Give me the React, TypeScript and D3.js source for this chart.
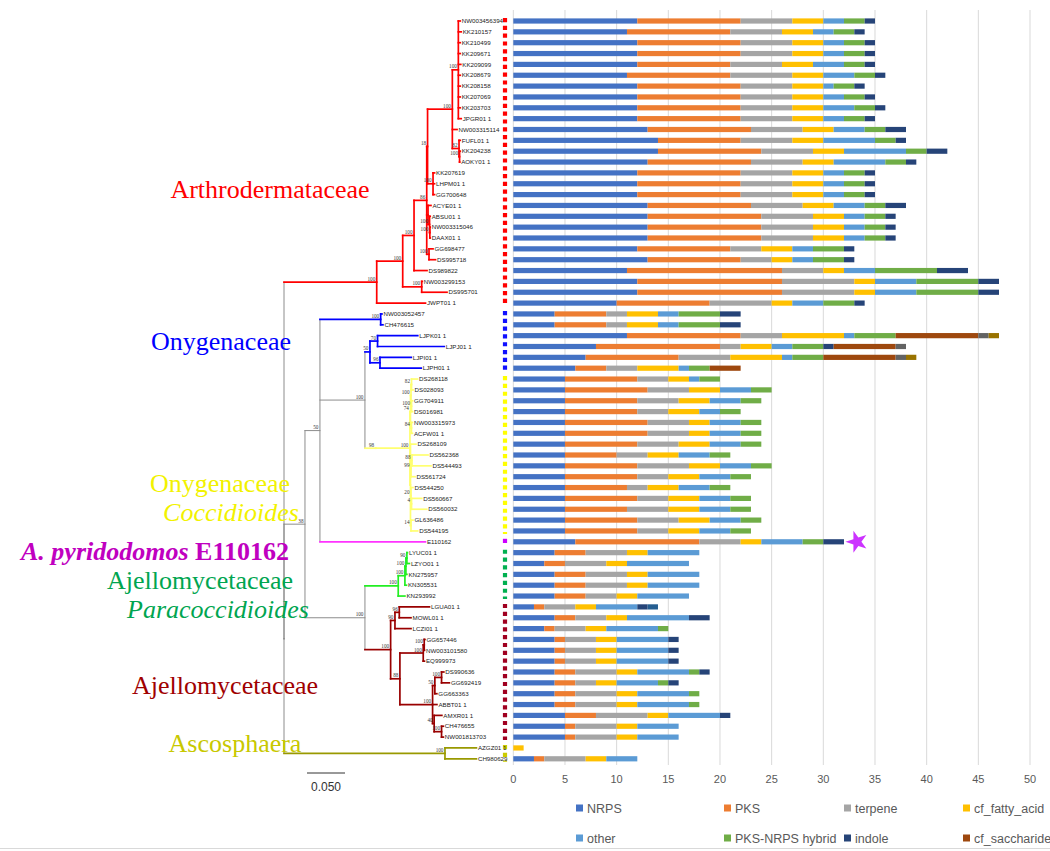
import React from "react";
import * as d3 from "d3";

// ---------------- DATA ----------------
const taxa = [
  "NW003456394","KK210157","KK210499","KK209671","KK209099","KK208679","KK208158","KK207069","KK203703","JPGR01 1",
  "NW003315114","FUFL01 1","KK204238","AOKY01 1","KK207619","LHPM01 1","GG700648","ACYE01 1","ABSU01 1","NW003315046",
  "DAAX01 1","GG698477","DS995718","DS989822","NW003299153","DS995701","JWPT01 1","NW003052457","CH476615","LJPK01 1",
  "LJPJ01 1","LJPI01 1","LJPH01 1","DS268118","DS028093","GG704911","DS016981","NW003315973","ACFW01 1","DS268109",
  "DS562368","DS544493","DS561724","DS544250","DS560667","DS560032","GL636486","DS544195","E110162","LYUC01 1",
  "LZYO01 1","KN275957","KN305531","KN293992","LGUA01 1","MOWL01 1","LCZI01 1","GG657446","NW003101580","EQ999973",
  "DS990636","GG692419","GG663363","ABBT01 1","AMXR01 1","CH476655","NW001813703","AZGZ01 1","CH980629",
];

const groupNames = ["Arthrodermataceae","Onygenaceae","Coccidioides","A. pyridodomos","Paracoccidioides","Ajellomycetaceae","Ascosphaera"];
const groupCounts = [27, 6, 15, 1, 5, 13, 2];

const NRPS =       [12,11,12,12,12,11,12,12,12,12, 13,14,14,13,12,12,12,13,13,13, 13,12,13,11,12,12,10,4,4,11, 8,7,6,5,5,5,5,5,5,5, 5,5,5,5,5,5,5,5,6,4, 3,4,4,4,2,4,3,4,4,4, 4,4,4,4,5,5,5,0,2];
const PKS =        [10,10,10,10,9,10,10,10,10,10, 10,8,10,10,10,10,10,10,11,11, 11,9,9,15,14,14,9,5,5,11, 12,9,3,7,8,7,7,8,8,7, 5,7,7,6,7,6,7,7,12,3, 2,3,3,3,1,2,1,1,1,1, 2,2,2,2,3,1,1,0,1];
const terpene =    [5,5,5,5,5,6,5,5,5,5, 5,5,5,5,5,5,5,5,5,5, 5,3,3,4,7,7,6,2,2,4, 2,5,3,3,4,4,3,4,4,4, 3,5,3,2,3,4,4,3,4,4, 4,4,4,3,3,3,3,3,3,3, 4,2,4,4,5,4,4,0,4];
const cfFattyAcid =[3,3,3,3,3,3,3,3,3,3, 3,3,3,3,3,3,3,3,3,3, 3,3,2,2,2,2,2,3,3,6, 3,5,4,2,3,3,3,2,2,3, 3,3,3,3,3,3,3,3,2,2, 2,2,2,2,2,2,2,2,2,2, 2,2,2,2,2,2,2,1,2];
const other =      [2,2,2,2,3,3,1,2,3,2, 3,5,6,5,2,2,2,3,2,2, 2,2,2,3,4,4,3,2,2,1, 2,1,1,1,3,3,2,3,3,3, 3,3,3,3,3,3,3,3,4,5, 6,5,5,5,4,6,5,5,5,5, 5,4,5,5,5,4,4,0,3];
const pksNrps =    [2,2,2,2,2,2,2,2,2,2, 2,2,2,2,2,2,2,2,2,2, 2,3,3,6,6,6,3,4,4,4, 3,3,2,2,2,2,2,2,2,2, 2,2,2,2,2,2,2,2,2,0, 0,0,0,0,0,0,1,0,0,0, 1,1,1,1,0,0,0,0,0];
const indole =     [1,1,1,1,1,1,1,1,1,1, 2,1,2,1,1,1,1,2,1,1, 1,1,1,3,2,2,1,2,2,0, 1,0,0,0,0,0,0,0,0,0, 0,0,0,0,0,0,0,0,2,0, 0,0,0,0,1,2,0,1,1,1, 1,1,0,0,1,0,0,0,0];
const cfSaccharide=[0,0,0,0,0,0,0,0,0,0, 0,0,0,0,0,0,0,0,0,0, 0,0,0,0,0,0,0,0,0,8, 6,7,3,0,0,0,0,0,0,0, 0,0,0,0,0,0,0,0,0,0, 0,0,0,0,0,0,0,0,0,0, 0,0,0,0,0,0,0,0,0];
const series9 =    [0,0,0,0,0,0,0,0,0,0, 0,0,0,0,0,0,0,0,0,0, 0,0,0,0,0,0,0,0,0,1, 1,1,0,0,0,0,0,0,0,0, 0,0,0,0,0,0,0,0,0,0, 0,0,0,0,0,0,0,0,0,0, 0,0,0,0,0,0,0,0,0];
const series10 =   [0,0,0,0,0,0,0,0,0,0, 0,0,0,0,0,0,0,0,0,0, 0,0,0,0,0,0,0,0,0,1, 0,1,0,0,0,0,0,0,0,0, 0,0,0,0,0,0,0,0,0,0, 0,0,0,0,0,0,0,0,0,0, 0,0,0,0,0,0,0,0,0];
const series11 =   [0,0,0,0,0,0,0,0,0,0, 0,0,0,0,0,0,0,0,0,0, 0,0,0,0,0,0,0,0,0,0, 0,0,0,0,0,0,0,0,0,0, 0,0,0,0,0,0,0,0,0,0, 0,0,0,0,1,0,0,0,0,0, 0,0,0,0,0,0,0,0,0];

const seriesNames = ["NRPS","PKS","terpene","cf_fatty_acid","other","PKS-NRPS hybrid","indole","cf_saccharide","series9","series10","series11"];
const seriesValues = [NRPS,PKS,terpene,cfFattyAcid,other,pksNrps,indole,cfSaccharide,series9,series10,series11];
const legendCount = 8;
const axisTicks = [0,5,10,15,20,25,30,35,40,45,50];

// Tree (Newick, branch lengths in substitutions/site, bootstrap as node labels)
const F_CL = "(NW003456394:0.0025,KK210157:0.0038,KK210499:0.0025,KK209671:0.0025,KK209099:0.0032,KK208679:0.0025,KK208158:0.0025,KK207069:0.0025,KK203703:0.0025,JPGR01_1:0.0038)100:0.0079";
const FG_CL = "(FUFL01_1:0.0016,(KK204238:0.0009,AOKY01_1:0.0001)100:0.0007)82:0.0088";
const K1_CL = "(KK207619:0.002,LHPM01_1:0.002,GG700648:0.002)100:0.0072";
const E3_CL = "(ACYE01_1:0.0039,(ABSU01_1:0.0009,(NW003315046:0.0005,DAAX01_1:0.0005)100:0.0004)100:0.002):0.0017";
const E2_CL = "(GG698477:0.0053,DS995718:0.0086)100:0.003";
const C_CL = "(NW003299153:0.0008,DS995701:0.0333)100:0.025";
const ARTHRO = `((((((${F_CL},NW003315114:0.0062,${FG_CL})100:0.0326,${K1_CL})18:0.0011,${E3_CL},${E2_CL})86:0.0167,DS989822:0.0171)100:0.0149,${C_CL})100:0.0342,JWPT01_1:0.0642)100:0.122`;
const ONY_BP = "(NW003052457:0.0017,CH476615:0.003)100:0.0799";
const ONY_LJP = "((LJPK01_1:0.0529,LJPJ01_1:0.0878)70:0.01,(LJPI01_1:0.0412,LJPH01_1:0.0543)96:0.0132)50:0.0066";
const COCCI_U = "((((DS268118:0.0079,DS028093:0.002)82:0.0007,(GG704911:0.0013,DS016981:0.0013)100:0.0007)100:0.0007,(NW003315973:0.0013,ACFW01_1:0.0013)84:0.0013)74:0.0007";
const COCCI_L = "(DS268109:0.0072,((DS562368:0.0211,DS544493:0.025)88:0.0013,DS561724:0.0053)99:0.0007,(DS544250:0.0026,(DS560667:0.0134,DS560032:0.02)4:0.0007)20:0.0007,(GL636486:0.0026,DS544195:0.0088)14:0.0007):0.0007";
const ONYGENALES = `(((${ONY_BP},(${ONY_LJP},(${COCCI_U},${COCCI_L})100:0.0451)98:0.0141)100:0.0592,E110162:0.1388)50:0.0197`;
const PARA = "((((LYUC01_1:0.0007,LZYO01_1:0.0033)90:0.0013,KN275957:0.0013)100:0.0013,KN305531:0.002)100:0.0088,KN293992:0.0088)100:0.0438";
const AJ_M1 = "((LGUA01_1:0.0397,MOWL01_1:0.0154)96:0.0057,LCZI01_1:0.0211)90:0.0057";
const AJ_M3 = "((GG657446:0.0009,NW003101580:0.0003)100:0.0013,EQ999973:0.0016)100:0.0307";
const AJ_M4 = "(((DS990636:0.003,GG692419:0.0103)100:0.0088,GG663363:0.0026)50:0.003,ABBT01_1:0.0057,(AMXR01_1:0.0101,(CH476655:0.0024,NW001813703:0.0024)100:0.0097)40:0.0021)100:0.043";
const AJELLO = `(${PARA},(${AJ_M1},(${AJ_M3},${AJ_M4})88:0.0122)100:0.0338)100:0.0789`;
const ASCO = "(AZGZ01_1:0.0414,CH980629:0.0414)100:0.2118";
const TREE = `(${ARTHRO},(${ONYGENALES},${AJELLO})38:0.0276,${ASCO});`;

// ---------------- STYLE ----------------
const seriesColors = ["#4472C4","#ED7D31","#A5A5A5","#FFC000","#5B9BD5","#70AD47","#264478","#9E480E","#636363","#997300","#255E91"];
const treeColors = ["#FF0000","#0000FF","#FFFF70","#FF33FF","#22EE22","#990000","#999900"];
const markerColors = ["#FF0000","#1010FF","#FFFF00","#CC00FF","#00B050","#A00020","#CCCC00"];
const GRAY = "#8c8c8c";

type TNode = { name: string; length: number; children: TNode[] };

function parseNewick(src: string): TNode {
  const s = src.replace(/\s+/g, "");
  let i = 0;
  function node(): TNode {
    const n: TNode = { name: "", length: 0, children: [] };
    if (s[i] === "(") {
      i++;
      n.children.push(node());
      while (s[i] === ",") { i++; n.children.push(node()); }
      i++;
    }
    let name = "";
    while (i < s.length && !",():;".includes(s[i])) name += s[i++];
    n.name = name;
    if (s[i] === ":") {
      i++;
      let num = "";
      while (i < s.length && !",();".includes(s[i])) num += s[i++];
      n.length = parseFloat(num);
    }
    return n;
  }
  return node();
}

export default function App() {
  const y = d3.scalePoint<string>().domain(taxa).range([21, 758.8]);
  const x = d3.scaleLinear().domain([0, 50]).range([513.3, 1030]);
  const tx = d3.scaleLinear().domain([0, 0.05]).range([284, 322]);

  const groupOf: Record<string, number> = {};
  let k = 0;
  groupCounts.forEach((c, g) => { for (let j = 0; j < c; j++) groupOf[taxa[k++]] = g; });

  const root = d3.hierarchy<TNode>(parseNewick(TREE), (d) => (d.children.length ? d.children : null));
  const dist = new Map<any, number>();
  const ny = new Map<any, number>();
  const ng = new Map<any, number>();
  root.eachBefore((n) => { dist.set(n, n.parent ? (dist.get(n.parent) as number) + n.data.length : 0); });
  root.eachAfter((n) => {
    if (!n.children) {
      const nm = n.data.name.replace(/_/g, " ");
      ny.set(n, y(nm) as number);
      ng.set(n, groupOf[nm]);
    } else {
      const c = n.children;
      ny.set(n, ((ny.get(c[0]) as number) + (ny.get(c[c.length - 1]) as number)) / 2);
      const g0 = ng.get(c[0]) as number;
      ng.set(n, c.every((ch) => ng.get(ch) === g0) ? g0 : -1);
    }
  });

  const nodes = root.descendants();
  const segs: { x1: number; y1: number; x2: number; y2: number; g: number }[] = [];
  nodes.forEach((n) => {
    const g = ng.get(n) as number;
    const nx = tx(dist.get(n) as number);
    const yy = ny.get(n) as number;
    if (n.parent) segs.push({ x1: tx(dist.get(n.parent) as number), y1: yy, x2: nx, y2: yy, g });
    if (n.children) {
      const c = n.children;
      segs.push({ x1: nx, y1: ny.get(c[0]) as number, x2: nx, y2: ny.get(c[c.length - 1]) as number, g });
    }
  });
  segs.sort((a, b) => (a.g < 0 ? 0 : 1) - (b.g < 0 ? 0 : 1));

  // stacked bars
  const bars: { x: number; w: number; y: number; c: string; key: string }[] = [];
  taxa.forEach((t, i) => {
    let cum = 0;
    seriesValues.forEach((vals, s) => {
      const v = vals[i];
      if (v > 0) {
        bars.push({ x: x(cum), w: x(cum + v) - x(cum), y: y(t) as number, c: seriesColors[s], key: t + s });
        cum += v;
      }
    });
  });
  const starTaxon = "E110162";
  const starIdx = taxa.indexOf(starTaxon);
  const starTotal = seriesValues.reduce((a, vals) => a + vals[starIdx], 0);
  const starPath = d3.symbol().type(d3.symbolStar).size(150)() as string;

  // marker column
  let start = 0;
  const markerRuns = groupCounts.map((c, g) => {
    const r = { y1: (y(taxa[start]) as number) - 3, y2: (y(taxa[start + c - 1]) as number) + 3, color: markerColors[g] };
    start += c;
    return r;
  });

  const legendCols = [576, 724, 844, 963];
  const legendRows = [808, 838];
  const leafFont = "'Liberation Sans', Arial, sans-serif";
  const serif = "'Liberation Serif', 'Times New Roman', serif";

  return (
    <svg width={1050} height={851} style={{ position: "absolute", left: 0, top: 0, background: "#fff" }}>
      {/* gridlines */}
      {axisTicks.map((t) => (
        <line key={"g" + t} x1={x(t)} x2={x(t)} y1={10} y2={765} stroke="#D9D9D9" strokeWidth={1} />
      ))}
      {axisTicks.map((t) => (
        <text key={"t" + t} x={x(t)} y={783} textAnchor="middle" fontSize={11} fill="#595959" fontFamily={leafFont}>{t}</text>
      ))}
      {/* bars */}
      {bars.map((b) => (
        <rect key={b.key} x={b.x} y={b.y - 2.6} width={b.w} height={5.2} fill={b.c} />
      ))}
      <path d={starPath} transform={`translate(${x(starTotal) + 13},${y(starTaxon)}) rotate(-18)`} fill="#CC33FF" />
      {/* markers */}
      {markerRuns.map((m, i) => (
        <line key={"m" + i} x1={505} x2={505} y1={m.y1} y2={m.y2} stroke={m.color} strokeWidth={4.2} strokeDasharray="4.2 3.6" />
      ))}
      {/* tree */}
      {segs.map((s, i) => (
        <line key={"s" + i} x1={s.x1} y1={s.y1} x2={s.x2} y2={s.y2}
          stroke={s.g < 0 ? GRAY : treeColors[s.g]} strokeWidth={s.g < 0 ? 1 : 1.7} strokeLinecap="square" />
      ))}
      {nodes.filter((n) => n.children && n.data.name).map((n, i) => (
        <text key={"b" + i} x={tx(dist.get(n) as number) - 1.5} y={(ny.get(n) as number) - 1.5} textAnchor="end"
          fontSize={5.2} fontFamily={serif} fill="#333">{n.data.name}</text>
      ))}
      {root.leaves().map((n, i) => (
        <text key={"l" + i} x={tx(dist.get(n) as number) + 1.5} y={(ny.get(n) as number) + 2.2}
          fontSize={6.2} fontFamily={leafFont} fill="#222">{n.data.name.replace(/_/g, " ")}</text>
      ))}
      {/* group labels */}
      <g fontFamily={serif} fontSize={26} textAnchor="middle">
        <text x={270} y={198} fill="#FF0000">{groupNames[0]}</text>
        <text x={221} y={350} fill="#0000FF">{groupNames[1]}</text>
        <text x={220} y={492} fill="#F2F200">{groupNames[1]}</text>
        <text x={231} y={521} fill="#F2F200" fontStyle="italic">{groupNames[2]}</text>
        <text x={155} y={560} fill="#C000C0" fontWeight="bold"><tspan fontStyle="italic">{groupNames[3]}</tspan> E110162</text>
        <text x={200} y={589} fill="#00A550">{groupNames[5]}</text>
        <text x={218} y={618} fill="#00A550" fontStyle="italic">{groupNames[4]}</text>
        <text x={225} y={694} fill="#A00000">{groupNames[5]}</text>
        <text x={235} y={752} fill="#C8C800">{groupNames[6]}</text>
      </g>
      {/* scale bar */}
      <line x1={tx(0) + 23} x2={tx(0.05) + 23} y1={773} y2={773} stroke="#333" strokeWidth={1} />
      <text x={(tx(0) + tx(0.05)) / 2 + 23} y={791} textAnchor="middle" fontSize={12} fontFamily={leafFont} fill="#333">0.050</text>
      {/* legend */}
      {seriesNames.slice(0, legendCount).map((nm, i) => {
        const cx = legendCols[i % 4];
        const cy = legendRows[Math.floor(i / 4)];
        return (
          <g key={"lg" + i}>
            <rect x={cx} y={cy - 3.5} width={7} height={7} fill={seriesColors[i]} />
            <text x={cx + 11} y={cy + 4.5} fontSize={12.5} fontFamily={leafFont} fill="#595959">{nm}</text>
          </g>
        );
      })}
      <line x1={0} x2={1050} y1={848.5} y2={848.5} stroke="#D9D9D9" strokeWidth={1} />
    </svg>
  );
}
